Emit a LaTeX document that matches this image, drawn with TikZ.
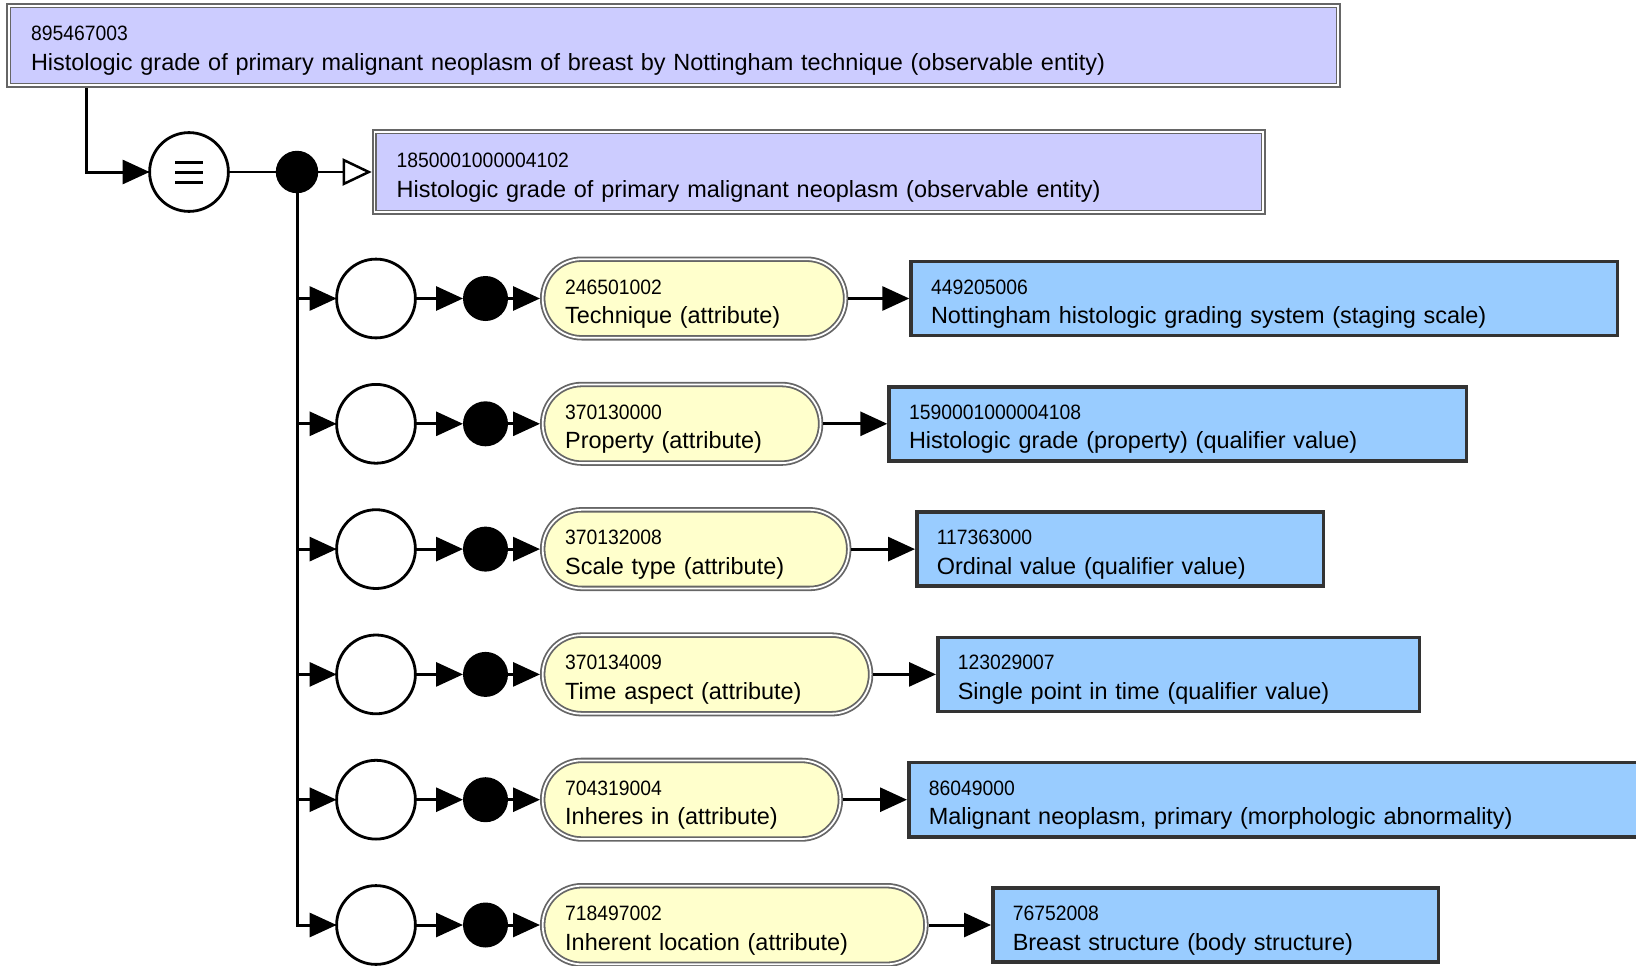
\documentclass[tikz,border=0pt]{standalone}
\usepackage{fontspec}
\setmainfont{Liberation Sans}
\newfontfamily\numfamily[FakeStretch=0.93]{Liberation Sans}
\usetikzlibrary{arrows.meta}

% identifier line (smaller, slightly condensed) and label line with fixed depth
\newcommand\idnum[1]{\rule{0pt}{26.5pt}{\numfamily\fontsize{20.8}{29.5}\selectfont #1}}
\newcommand\fsn[1]{#1\rule[-6pt]{0pt}{6pt}}

\definecolor{conceptfill}{HTML}{CCCCFF}
\definecolor{attrfill}{HTML}{FFFFCC}
\definecolor{valuefill}{HTML}{99CCFF}
\definecolor{dblgray}{HTML}{666666}
\definecolor{valborder}{HTML}{333333}

\tikzset{
  every node/.style={outer sep=0pt},
  labeltext/.style={font=\fontsize{23.45}{29.5}\selectfont, align=left, inner ysep=0pt, text=black},
  defbox/.style={labeltext, rectangle, draw=dblgray, line width=1.8pt, double=white,
    double distance=1.8pt, fill=conceptfill, inner xsep=22.3pt, minimum height=79.6pt},
  attrbox/.style={labeltext, rectangle, rounded corners=39pt, draw=dblgray, line width=1.8pt,
    double=white, double distance=1.8pt, fill=attrfill, inner xsep=22.5pt, minimum height=78.6pt},
  valbox/.style={labeltext, rectangle, draw=valborder, line width=3.5pt, fill=valuefill,
    inner xsep=20pt, minimum height=74.1pt},
  ring/.style={circle, draw=black, line width=2.8pt, fill=white, minimum size=78.8pt, inner sep=0pt},
  blob/.style={circle, fill=black, minimum size=45pt, inner sep=0pt},
  conn/.style={line width=3pt, -{Triangle[length=27pt,width=24pt]}},
}

\begin{document}
\begin{tikzpicture}[x=1pt,y=-1pt]
\path[use as bounding box] (0,0) rectangle (1636,966);
\clip (0,0) rectangle (1636,966);

% defined concept and its definition status
\node[defbox, text width=1285pt] (top) at (673.5,45.5)
  {\idnum{895467003}\\\fsn{Histologic grade of primary malignant neoplasm of breast by Nottingham technique (observable entity)}};
\node[ring] (eq) at (189,172) {};
\foreach \dy in {-10,0,10}
  \draw[line width=3pt] ([shift={(-14,\dy)}]eq.center) -- ++(28,0);
\node[blob, minimum size=42.4pt] (hub) at (297,172) {};
\node[defbox, text width=844.2pt, minimum height=80.6pt] (parent) at (818.8,172)
  {\idnum{1850001000004102}\\\fsn{Histologic grade of primary malignant neoplasm (observable entity)}};

% attribute groups
\node[ring] (c1) at (376,298.5) {};
\node[blob] (d1) at (485.5,298.5) {};
\node[attrbox, text width=257.9pt] (a1) at (694.15,298.5) {\idnum{246501002}\\\fsn{Technique (attribute)}};
\node[valbox, text width=666.5pt] (v1) at (1264.3,298.5) {\idnum{449205006}\\\fsn{Nottingham histologic grading system (staging scale)}};

\node[ring] (c2) at (376,423.8) {};
\node[blob] (d2) at (485.5,423.8) {};
\node[attrbox, text width=232.9pt] (a2) at (681.65,423.8) {\idnum{370130000}\\\fsn{Property (attribute)}};
\node[valbox, text width=537.5pt] (v2) at (1177.8,423.8) {\idnum{1590001000004108}\\\fsn{Histologic grade (property) (qualifier value)}};

\node[ring] (c3) at (376,549.1) {};
\node[blob] (d3) at (485.5,549.1) {};
\node[attrbox, text width=261pt] (a3) at (695.7,549.1) {\idnum{370132008}\\\fsn{Scale type (attribute)}};
\node[valbox, text width=366.5pt] (v3) at (1120,549.1) {\idnum{117363000}\\\fsn{Ordinal value (qualifier value)}};

\node[ring] (c4) at (376,674.4) {};
\node[blob] (d4) at (485.5,674.4) {};
\node[attrbox, text width=282.9pt] (a4) at (706.65,674.4) {\idnum{370134009}\\\fsn{Time aspect (attribute)}};
\node[valbox, text width=441.5pt] (v4) at (1178.5,674.4) {\idnum{123029007}\\\fsn{Single point in time (qualifier value)}};

\node[ring] (c5) at (376,799.7) {};
\node[blob] (d5) at (485.5,799.7) {};
\node[attrbox, text width=252.7pt] (a5) at (691.55,799.7) {\idnum{704319004}\\\fsn{Inheres in (attribute)}};
\node[valbox, text width=809.5pt] (v5) at (1333.5,799.7) {\idnum{86049000}\\\fsn{Malignant neoplasm, primary (morphologic abnormality)}};

\node[ring] (c6) at (376,925) {};
\node[blob] (d6) at (485.5,925) {};
\node[attrbox, text width=338.2pt] (a6) at (734.3,925) {\idnum{718497002}\\\fsn{Inherent location (attribute)}};
\node[valbox, text width=405.5pt] (v6) at (1215.5,925) {\idnum{76752008}\\\fsn{Breast structure (body structure)}};

% connectors
\draw[conn] ([xshift=78pt,yshift=-2.7pt]top.south west) |- (eq.west);
\draw[line width=2.5pt] (eq) -- (hub);
\draw[line width=2.5pt, -{Triangle[open,length=29pt,width=27pt]}] (hub) -- ([xshift=-2.7pt]parent.west);

\draw[conn] (hub.south) |- (c6.west);
\foreach \k/\y in {1/298.5,2/423.8,3/549.1,4/674.4,5/799.7}{
  \coordinate (b\k) at (297,\y);
  \draw[conn] (b\k) -- (c\k.west);
}
\foreach \k in {1,...,6}{
  \draw[conn] (c\k) -- (d\k);
  \draw[conn] (d\k) -- ([xshift=-2.7pt]a\k.west);
  \draw[conn] ([xshift=2.7pt]a\k.east) -- ([xshift=-1.75pt]v\k.west);
}
\end{tikzpicture}
\end{document}
